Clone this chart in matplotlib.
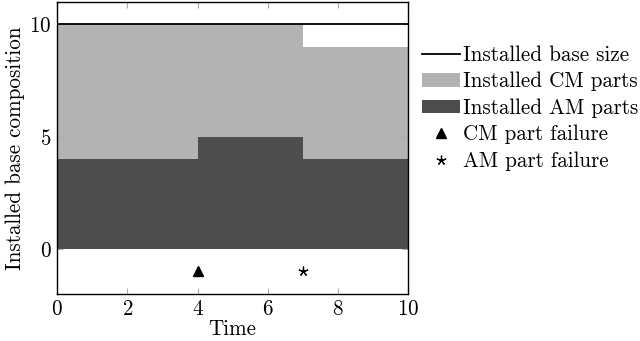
import matplotlib.pyplot as plt
from matplotlib.lines import Line2D
from matplotlib.patches import Patch

# installed base over time (piecewise constant, step after each time)
time = [0, 4, 7, 10]
am_parts = [4, 5, 4, 4]
cm_parts = [6, 5, 5, 5]
base_size = [10, 10, 10, 10]

cm_failures_t = [4]
am_failures_t = [7]
failure_y = -1

cm_color = '#b3b3b3'
am_color = '#4d4d4d'

plt.rcParams['font.family'] = ['cmr10', 'DejaVu Serif']
plt.rcParams['axes.formatter.use_mathtext'] = True
plt.rcParams['font.size'] = 15.2

fig = plt.figure(figsize=(6.4, 3.41), dpi=100)
ax = fig.add_axes([0.089, 0.138, 0.549, 0.856])

total = [a + c for a, c in zip(am_parts, cm_parts)]
ax.fill_between(time, 0, am_parts, step='post', color=am_color, lw=0)
ax.fill_between(time, am_parts, total, step='post', color=cm_color, lw=0)
ax.plot(time, base_size, color='black', lw=1.3, drawstyle='steps-post')

ax.plot(cm_failures_t, [failure_y] * len(cm_failures_t), ls='none',
        marker='^', color='black', ms=6.5)
ax.plot(am_failures_t, [failure_y] * len(am_failures_t), ls='none',
        marker=(5, 2, 0), color='black', ms=7, mew=0.9)

ax.set_xlim(0, 10)
ax.set_ylim(-2, 11)
ax.set_xticks([0, 2, 4, 6, 8, 10])
ax.set_yticks([0, 5, 10])
ax.tick_params(direction='in', top=True, right=True, color='#aaaaaa',
               length=4, pad=4)
for s in ax.spines.values():
    s.set_linewidth(1.0)
ax.set_xlabel('Time', labelpad=0)
ax.set_ylabel('Installed base composition', labelpad=3)

handles = [
    Line2D([], [], color='black', lw=1.3),
    Patch(color=cm_color, lw=0),
    Patch(color=am_color, lw=0),
    Line2D([], [], ls='none', marker='^', color='black', ms=6.5),
    Line2D([], [], ls='none', marker=(5, 2, 0), color='black', ms=7, mew=0.9),
]
labels = ['Installed base size', 'Installed CM parts', 'Installed AM parts',
          'CM part failure', 'AM part failure']
fig.legend(handles, labels, loc='center left', bbox_to_anchor=(0.633, 0.683),
           frameon=False, handlelength=1.8, handletextpad=0.15,
           labelspacing=0.33, numpoints=1, borderpad=0.3, handleheight=0.6)

fig.savefig('out.png', dpi=100)
